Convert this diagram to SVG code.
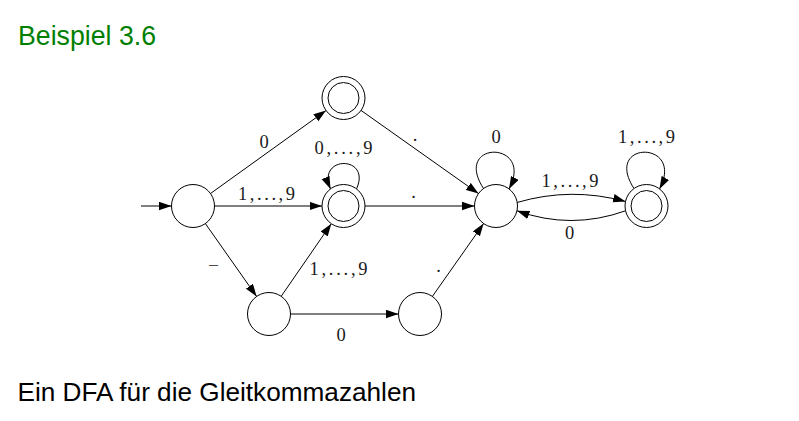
<svg xmlns="http://www.w3.org/2000/svg" width="799" height="421" viewBox="0 0 799 421">
<style>
  .st { fill: #fff; stroke: #000; stroke-width: 1; }
  .e { fill: none; stroke: #000; stroke-width: 1; marker-end: url(#arr); }
  .lbl { font-family: "Liberation Serif", "DejaVu Serif", serif; font-size: 18.5px; fill: #1a1a1a; text-anchor: middle; }
  .title { font-family: "Liberation Sans", Arial, sans-serif; font-size: 27px; fill: #008000; }
  .body { font-family: "Liberation Sans", Arial, sans-serif; font-size: 25px; fill: #000; }
</style>
<defs>
  <marker id="arr" markerUnits="userSpaceOnUse" markerWidth="13" markerHeight="9" refX="12.5" refY="4.25" orient="auto" viewBox="0 0 13 9">
    <path d="M0,0 L12.5,4.25 L0,8.5 Z" fill="#000"/>
  </marker>
</defs>
<rect width="799" height="421" fill="#fff"/>
<text class="title" x="18" y="44.5" textLength="138" lengthAdjust="spacingAndGlyphs">Beispiel 3.6</text>

<g id="connectors">
  <path class="e" d="M141,206 L171.5,206"/>
  <path class="e" d="M210.5,193.5 L326,110.5"/>
  <path class="e" d="M214.5,206 L322,206"/>
  <path class="e" d="M205.4,223.6 L256.6,296.4"/>
  <path class="e" d="M281.2,296.3 L331.3,223.7"/>
  <path class="e" d="M290.5,314 L398.5,314"/>
  <path class="e" d="M361,110.4 L478.5,193.6"/>
  <path class="e" d="M365,206 L474.5,206"/>
  <path class="e" d="M432.4,296.4 L483.6,223.6"/>
  <path class="e" d="M517,202.5 Q571,186.6 625.5,201.5"/>
  <path class="e" d="M625.6,210.8 Q571,230.2 517,210.8"/>
  <path class="e" d="M483.5,188.5 C452,140 535,140 509,189"/>
  <path class="e" d="M634,188.5 C602.5,140 685.5,140 659.5,189"/>
  <path class="e" d="M356.5,189 C372,155 316,155 330.5,189"/>
</g>

<g id="edge-labels">
  <text class="lbl" x="264" y="147.5">0</text>
  <text class="lbl" x="266.5" y="200" textLength="57" lengthAdjust="spacing">1,...,9</text>
  <text class="lbl" x="343.5" y="154" textLength="58" lengthAdjust="spacing">0,...,9</text>
  <text class="lbl" x="415" y="140.5">.</text>
  <text class="lbl" x="413.5" y="197.5">.</text>
  <text class="lbl" x="208" y="272" text-anchor="start" style="text-anchor:start" textLength="11" lengthAdjust="spacingAndGlyphs">−</text>
  <text class="lbl" x="338.5" y="275" textLength="58" lengthAdjust="spacing">1,...,9</text>
  <text class="lbl" x="341" y="341">0</text>
  <text class="lbl" x="438.5" y="272">.</text>
  <text class="lbl" x="496" y="143">0</text>
  <text class="lbl" x="570" y="187" textLength="57" lengthAdjust="spacing">1,...,9</text>
  <text class="lbl" x="569.5" y="239">0</text>
  <text class="lbl" x="646.5" y="143" textLength="57" lengthAdjust="spacing">1,...,9</text>
</g>

<g id="q0"><circle class="st" cx="193" cy="206" r="21.5"/></g>
<g id="q_zero"><circle class="st" cx="343.5" cy="98" r="21.5"/><circle class="st" cx="343.5" cy="98" r="15.5"/></g>
<g id="q_int"><circle class="st" cx="343.5" cy="206" r="21.5"/><circle class="st" cx="343.5" cy="206" r="15.5"/></g>
<g id="q_minus"><circle class="st" cx="269" cy="314" r="21.5"/></g>
<g id="q_minus0"><circle class="st" cx="420" cy="314" r="21.5"/></g>
<g id="q_dot"><circle class="st" cx="496" cy="206" r="21.5"/></g>
<g id="q_frac"><circle class="st" cx="646.5" cy="206" r="21.5"/><circle class="st" cx="646.5" cy="206" r="15.5"/></g>

<text class="body" x="17.5" y="400.5" textLength="398.5" lengthAdjust="spacingAndGlyphs">Ein DFA für die Gleitkommazahlen</text>
</svg>
